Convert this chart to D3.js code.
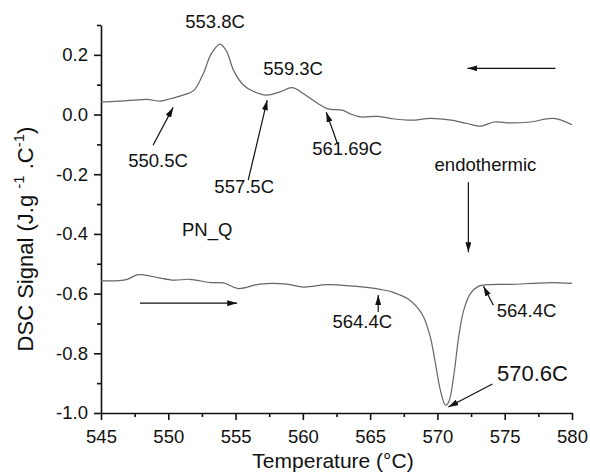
<!DOCTYPE html>
<html>
<head>
<meta charset="utf-8">
<script src="https://cdn.jsdelivr.net/npm/d3@7"></script>
<style>
  body { margin: 0; background: #fff; }
  svg { font-family: "Liberation Sans", Arial, sans-serif; }
</style>
</head>
<body>
<svg id="chart" width="590" height="474"></svg>
<script>
// cooling run (upper trace)
var coolT = [545, 546, 547.4, 548.4, 549.4, 549.9, 551.1, 551.9, 552.6, 553.2, 553.85, 554.35, 554.85, 555.6, 556.3, 557.3, 558.3, 559.2, 560.05, 561.05, 561.8, 563.0, 563.5, 564.3, 565.5, 566.5, 568, 569.5, 571, 572.2, 573.2, 574.2, 575.4, 576.9, 578.6, 580];
var coolY = [0.042, 0.044, 0.048, 0.051, 0.045, 0.050, 0.065, 0.081, 0.137, 0.204, 0.236, 0.21, 0.148, 0.098, 0.078, 0.065, 0.076, 0.09, 0.07, 0.039, 0.02, 0.014, 0.003, -0.008, -0.006, -0.013, -0.019, -0.013, -0.019, -0.03, -0.039, -0.025, -0.028, -0.025, -0.013, -0.034];

// heating run (lower trace)
var heatT = [545, 546.9, 547.65, 548.15, 549.3, 550.4, 551.6, 553.1, 554.1, 555.2, 556.8, 558.8, 560.05, 561.8, 563.8, 564.9, 565.75, 566.6, 567.24, 567.8, 568.23, 568.6, 568.97, 569.47, 569.85, 570.22, 570.6, 570.84, 571.2, 571.58, 571.95, 572.45, 573.07, 573.7, 575.4, 577, 578.5, 580];
var heatY = [-0.557, -0.553, -0.537, -0.537, -0.547, -0.555, -0.552, -0.563, -0.564, -0.583, -0.568, -0.568, -0.578, -0.57, -0.575, -0.58, -0.586, -0.594, -0.605, -0.617, -0.633, -0.652, -0.678, -0.745, -0.834, -0.924, -0.974, -0.963, -0.879, -0.745, -0.656, -0.6, -0.575, -0.57, -0.569, -0.566, -0.563, -0.566];

var xTicks = [545, 550, 555, 560, 565, 570, 575, 580];
var yTicks = [-1.0, -0.8, -0.6, -0.4, -0.2, 0.0, 0.2];

// annotation labels: text, temperature, signal
var labelText = ["553.8C", "559.3C", "550.5C", "557.5C", "561.69C", "endothermic", "PN_Q", "564.4C", "564.4C", "570.6C"];
var labelT    = [553.48, 559.28, 549.24, 555.64, 563.3, 573.57, 552.89, 564.42, 576.62, 577.06];
var labelY    = [0.289, 0.132, -0.177, -0.264, -0.136, -0.19, -0.408, -0.716, -0.679, -0.893];

// arrows: start -> tip
var arrowT0 = [548.87, 555.94, 562.56, 572.3, 578.77, 547.9, 565.6, 574.16, 574.09];
var arrowY0 = [-0.103, -0.22, -0.096, -0.227, 0.155, -0.632, -0.662, -0.639, -0.903];
var arrowT1 = [550.36, 557.35, 561.74, 572.3, 572.23, 555.12, 565.6, 573.42, 570.81];
var arrowY1 = [0.024, 0.048, 0.008, -0.461, 0.155, -0.632, -0.605, -0.575, -0.98];

var svg = d3.select("#chart");
var margin = {left: 101, top: 25, right: 18, bottom: 61};
var W = 590, H = 474;

var x = d3.scaleLinear().domain([545, 580]).range([margin.left, W - margin.right]);
var y = d3.scaleLinear().domain([-1.0, 0.3]).range([H - margin.bottom, margin.top]);

// arrowhead
svg.append("defs").append("marker")
    .attr("id", "head")
    .attr("viewBox", "0 0 10 6")
    .attr("refX", 10).attr("refY", 3)
    .attr("markerWidth", 10).attr("markerHeight", 6)
    .attr("markerUnits", "userSpaceOnUse")
    .attr("orient", "auto")
  .append("path")
    .attr("d", "M0,0L10,3L0,6Z")
    .attr("fill", "#111");

// minor ticks first, then major axes
var minorX = d3.range(547.5, 580, 5);
var minorY = d3.range(-0.9, 0.31, 0.2);

svg.append("g")
    .attr("transform", "translate(0," + y(-1.0) + ")")
    .call(d3.axisBottom(x).tickValues(minorX).tickSize(4).tickFormat(""))
    .call(g => g.select(".domain").remove());

svg.append("g")
    .attr("transform", "translate(" + x(545) + ",0)")
    .call(d3.axisLeft(y).tickValues(minorY).tickSize(4).tickFormat(""))
    .call(g => g.select(".domain").remove());

var xAxis = svg.append("g")
    .attr("transform", "translate(0," + y(-1.0) + ")")
    .call(d3.axisBottom(x).tickValues(xTicks).tickSize(7).tickSizeOuter(0).tickPadding(10).tickFormat(d3.format("d")));

var yAxis = svg.append("g")
    .attr("transform", "translate(" + x(545) + ",0)")
    .call(d3.axisLeft(y).tickValues(yTicks).tickSize(7).tickSizeOuter(0).tickPadding(6).tickFormat(d => d.toFixed(1)));

svg.selectAll(".tick text").attr("font-size", 18.5).attr("fill", "#111").attr("font-family", "Liberation Sans, Arial, sans-serif");
svg.selectAll(".domain, .tick line").attr("stroke", "#111").attr("stroke-width", 1.6);

// traces
var line = d3.line()
    .x(d => x(d[0]))
    .y(d => y(d[1]))
    .curve(d3.curveCatmullRom.alpha(0.5));

svg.append("path")
    .datum(coolT.map((t, i) => [t, coolY[i]]))
    .attr("d", line)
    .attr("fill", "none")
    .attr("stroke", "#666")
    .attr("stroke-width", 1.2);

svg.append("path")
    .datum(heatT.map((t, i) => [t, heatY[i]]))
    .attr("d", line)
    .attr("fill", "none")
    .attr("stroke", "#666")
    .attr("stroke-width", 1.2);

// arrows
svg.selectAll("line.arrow")
    .data(arrowT0)
    .enter().append("line")
    .attr("class", "arrow")
    .attr("x1", (d, i) => x(arrowT0[i]))
    .attr("y1", (d, i) => y(arrowY0[i]))
    .attr("x2", (d, i) => x(arrowT1[i]))
    .attr("y2", (d, i) => y(arrowY1[i]))
    .attr("stroke", "#111")
    .attr("stroke-width", 1.2)
    .attr("marker-end", "url(#head)");

// labels
svg.selectAll("text.note")
    .data(labelText)
    .enter().append("text")
    .attr("class", "note")
    .attr("x", (d, i) => x(labelT[i]))
    .attr("y", (d, i) => y(labelY[i]))
    .attr("text-anchor", "middle")
    .attr("font-size", d => d === "570.6C" ? 22 : 18.5)
    .attr("fill", "#111")
    .text(d => d);

// axis titles
svg.append("text")
    .attr("x", 333)
    .attr("y", 468)
    .attr("text-anchor", "middle")
    .attr("font-size", 21)
    .attr("fill", "#111")
    .text("Temperature (°C)");

var yt = svg.append("text")
    .attr("transform", "translate(33,239) rotate(-90)")
    .attr("text-anchor", "middle")
    .attr("font-size", 22)
    .attr("fill", "#111");
yt.append("tspan").text("DSC Signal (J.g ");
yt.append("tspan").attr("dy", -9).attr("font-size", 15).text("-1");
yt.append("tspan").attr("dy", 9).text(" .C");
yt.append("tspan").attr("dy", -9).attr("font-size", 15).text("-1");
yt.append("tspan").attr("dy", 9).text(")");
</script>
</body>
</html>
